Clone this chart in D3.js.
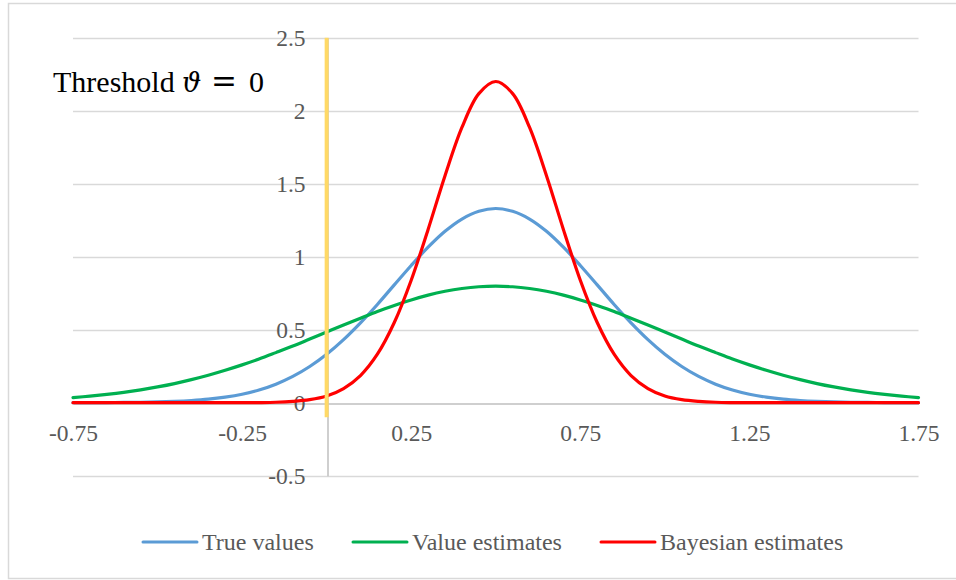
<!DOCTYPE html>
<html><head><meta charset="utf-8">
<script src="https://cdn.jsdelivr.net/npm/d3@7"></script>
<style>body{margin:0;background:#fff}svg{display:block}</style>
</head><body>
<script>
const xValues = [-0.75,-0.70,-0.65,-0.60,-0.55,-0.50,-0.45,-0.40,-0.35,-0.30,-0.25,-0.20,-0.15,-0.10,-0.05,0.00,0.05,0.10,0.15,0.20,0.25,0.30,0.35,0.40,0.45,0.50,0.55,0.60,0.65,0.70,0.75,0.80,0.85,0.90,0.95,1.00,1.05,1.10,1.15,1.20,1.25,1.30,1.35,1.40,1.45,1.50,1.55,1.60,1.65,1.70,1.75];
const trueValues = [0.0002,0.0004,0.001,0.002,0.003,0.005,0.009,0.015,0.024,0.038,0.058,0.087,0.127,0.180,0.248,0.332,0.432,0.547,0.673,0.807,0.940,1.065,1.174,1.258,1.311,1.330,1.311,1.258,1.174,1.065,0.940,0.807,0.673,0.547,0.432,0.332,0.248,0.180,0.127,0.087,0.058,0.038,0.024,0.015,0.009,0.005,0.003,0.002,0.001,0.0004,0.0002];
const valueEstimates = [0.035,0.045,0.057,0.071,0.088,0.108,0.131,0.158,0.188,0.222,0.259,0.299,0.343,0.388,0.436,0.484,0.532,0.579,0.625,0.666,0.704,0.737,0.763,0.782,0.794,0.798,0.794,0.782,0.763,0.737,0.704,0.666,0.625,0.579,0.532,0.484,0.436,0.388,0.343,0.299,0.259,0.222,0.188,0.158,0.131,0.108,0.088,0.071,0.057,0.045,0.035];
const bayesianEstimates = [0,0,0,0,0,0,0,0,0,0.0001,0.0004,0.001,0.003,0.009,0.021,0.046,0.097,0.186,0.332,0.549,0.839,1.187,1.555,1.885,2.117,2.200,2.117,1.885,1.555,1.187,0.839,0.549,0.332,0.186,0.097,0.046,0.021,0.009,0.003,0.001,0.0004,0.0001,0,0,0,0,0,0,0,0,0];
const thresholdX = [0,0];
const thresholdY = [-0.1,2.5];
const xTicks = [-0.75,-0.25,0.25,0.75,1.25,1.75];
const yTicks = [-0.5,0,0.5,1,1.5,2,2.5];
const seriesNames = ["True values","Value estimates","Bayesian estimates"];
const seriesColors = ["#5B9BD5","#00B050","#FF0000"];

const W = 956, H = 580;
const svg = d3.select("body").append("svg").attr("width", W).attr("height", H);
svg.append("rect").attr("x",8.5).attr("y",3.5).attr("width",960).attr("height",575)
  .attr("fill","#fff").attr("stroke","#D9D9D9").attr("stroke-width",1.5);

const x = d3.scaleLinear().domain([-0.75,1.75]).range([73,918.5]);
const y = d3.scaleLinear().domain([-0.5,2.5]).range([475.7,37.7]);
const font = "'Liberation Serif','Times New Roman',serif";

// gridlines
svg.append("g").selectAll("line").data(yTicks.filter(v=>v!==0)).join("line")
  .attr("x1",x(-0.75)).attr("x2",x(1.75))
  .attr("y1",d=>Math.round(y(d))+0.5).attr("y2",d=>Math.round(y(d))+0.5)
  .attr("stroke","#D9D9D9").attr("stroke-width",1.5);

// x axis at y=0
const xAxis = svg.append("g").attr("transform",`translate(0,${Math.round(y(0))+0.5})`)
  .call(d3.axisBottom(x).tickValues(xTicks).tickSize(0).tickFormat(d=>String(d)));
xAxis.select(".domain").attr("stroke","#BFBFBF").attr("stroke-width",1.5);
xAxis.selectAll("text").attr("y",30).attr("dy","0.32em")
  .attr("font-family",font).attr("font-size",23.5).attr("fill","#595959");

// y axis at x=0
const yAxis = svg.append("g").attr("transform",`translate(${Math.round(x(0))+0.5},0)`)
  .call(d3.axisLeft(y).tickValues(yTicks).tickSize(0).tickPadding(22).tickFormat(d=>String(d)));
yAxis.select(".domain").attr("stroke","#BFBFBF").attr("stroke-width",1.5);
yAxis.selectAll("text").attr("dy","0.32em")
  .attr("font-family",font).attr("font-size",23.5).attr("fill","#595959");

// series
const seriesData = [trueValues, valueEstimates, bayesianEstimates];
const line = d3.line().x(d=>x(d[0])).y(d=>y(d[1])).curve(d3.curveCatmullRom);
seriesData.forEach((vals,i)=>{
  svg.append("path").datum(xValues.map((xv,j)=>[xv, vals[j]]))
    .attr("d",line).attr("fill","none").attr("stroke",seriesColors[i])
    .attr("stroke-width",3.2).attr("stroke-linejoin","round").attr("stroke-linecap","round");
});

// threshold line
svg.append("path").datum(thresholdX.map((xv,j)=>[xv,thresholdY[j]]))
  .attr("d",d3.line().x(d=>x(d[0])).y(d=>y(d[1])))
  .attr("stroke","#FFD966").attr("stroke-width",4).attr("fill","none");

// threshold label
const t = svg.append("text").attr("x",53).attr("y",92)
  .attr("font-family",font).attr("font-size",30).attr("fill","#000");
t.append("tspan").text("Threshold");
t.append("tspan").attr("x",182).attr("font-style","italic")
  .attr("font-family","'DejaVu Serif','Liberation Serif',serif").attr("font-size",27).text("ϑ");
t.append("tspan").attr("x",211).attr("font-family","'DejaVu Serif',serif").attr("font-size",31).text("=");
t.append("tspan").attr("x",249).text("0");

// legend
const legendX = [143, 353, 601];
seriesNames.forEach((name,i)=>{
  const g = svg.append("g").attr("transform",`translate(${legendX[i]},542)`);
  g.append("line").attr("x1",0).attr("x2",54).attr("y1",0).attr("y2",0)
    .attr("stroke",seriesColors[i]).attr("stroke-width",3).attr("stroke-linecap","round");
  g.append("text").attr("x",59).attr("y",0).attr("dy","0.32em")
    .attr("font-family",font).attr("font-size",24).attr("fill","#595959").text(name);
});
</script>
</body></html>
